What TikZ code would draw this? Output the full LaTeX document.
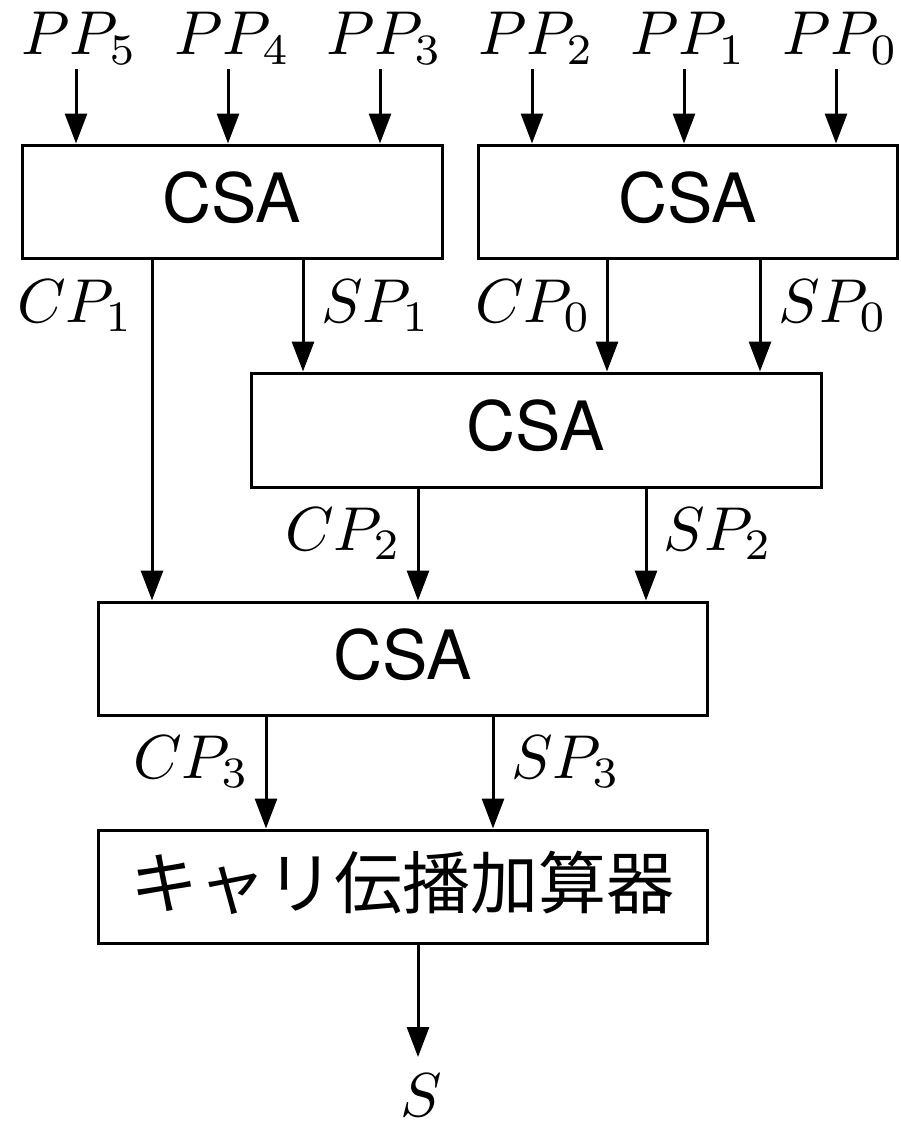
\documentclass[tikz,border=0pt]{standalone}
\DeclareFontFamily{OML}{cmm}{\skewchar\font'177}
\DeclareFontShape{OML}{cmm}{m}{it}{<->cmmi10}{}
\DeclareFontShape{OML}{cmm}{b}{it}{<->cmmib10}{}
\DeclareFontShape{OT1}{cmr}{m}{n}{<-50>cmr7<50->cmr10}{}
\DeclareFontFamily{OMS}{cmsy}{\skewchar\font'60}
\DeclareFontShape{OMS}{cmsy}{m}{n}{<->cmsy10}{}
\usepackage{fontspec}
\setsansfont{TeX Gyre Heros}
\newfontfamily\jpfont{Noto Sans CJK JP}
\usetikzlibrary{arrows.meta}
\begin{document}
\begin{tikzpicture}[x=1pt,y=-1pt,
  blk/.style={draw, line width=3pt, rectangle, inner sep=0pt,
    font=\sffamily\fontsize{68}{68}\selectfont, text height=49pt, text depth=8pt},
  jpblk/.style={blk, font=\jpfont\fontsize{68}{68}\selectfont, text height=60pt, text depth=16pt},
  sig/.style={line width=3pt, -{Triangle[length=30pt,width=22pt]}},
  lab/.style={font=\fontsize{62}{62}\selectfont, inner sep=0pt},
  labc/.style={lab, anchor=base},
  labl/.style={lab, anchor=base east},
  labr/.style={lab, anchor=base west}]
\useasboundingbox (0,0) rectangle (900,1124);
% blocks
\node[blk, minimum width=420pt, minimum height=113pt] (b1) at (232,201.5) {CSA};
\node[blk, minimum width=419pt, minimum height=113pt] (b2) at (687.5,201.5) {CSA};
\node[blk, minimum width=570pt, minimum height=114pt] (b3) at (536,430) {CSA};
\node[blk, minimum width=609pt, minimum height=113pt] (b4) at (402.5,658.5) {CSA};
\node[jpblk, minimum width=609pt, minimum height=113pt] (b5) at (402.5,886.5) {キャリ伝播加算器};
% input start points
\coordinate (p5) at (76,69);
\coordinate (p4) at (228,69);
\coordinate (p3) at (380,69);
\coordinate (p2) at (532,69);
\coordinate (p1) at (684,69);
\coordinate (p0) at (836,69);
\coordinate (sout) at (418,1057);
% input labels
\node[labc] (lp5) at (78,55) {$PP_5$};
\node[labc] (lp4) at (231,55) {$PP_4$};
\node[labc] (lp3) at (383,55) {$PP_3$};
\node[labc] (lp2) at (535,55) {$PP_2$};
\node[labc] (lp1) at (687,55) {$PP_1$};
\node[labc] (lp0) at (839,55) {$PP_0$};
% input arrows
\foreach \p in {p5,p4,p3}
  \draw[sig] (\p) -- (\p |- b1.north);
\foreach \p in {p2,p1,p0}
  \draw[sig] (\p) -- (\p |- b2.north);
% x positions of internal signals
\coordinate (xc1) at (152,0);
\coordinate (xs1) at (303,0);
\coordinate (xc0) at (607,0);
\coordinate (xs0) at (760,0);
\coordinate (xc2) at (418,0);
\coordinate (xs2) at (646,0);
\coordinate (xc3) at (266,0);
\coordinate (xs3) at (493,0);
% internal arrows
\draw[sig] (b1.south -| xc1) -- (b4.north -| xc1);
\draw[sig] (b1.south -| xs1) -- (b3.north -| xs1);
\draw[sig] (b2.south -| xc0) -- (b3.north -| xc0);
\draw[sig] (b2.south -| xs0) -- (b3.north -| xs0);
\draw[sig] (b3.south -| xc2) -- (b4.north -| xc2);
\draw[sig] (b3.south -| xs2) -- (b4.north -| xs2);
\draw[sig] (b4.south -| xc3) -- (b5.north -| xc3);
\draw[sig] (b4.south -| xs3) -- (b5.north -| xs3);
\draw[sig] (b5.south -| sout) -- (sout);
% labels
\node[labl] (lc1) at (131,322) {$CP_1$};
\node[labr] (ls1) at (321,322) {$SP_1$};
\node[labl] (lc0) at (589,322) {$CP_0$};
\node[labr] (ls0) at (778,322) {$SP_0$};
\node[labl] (lc2) at (399,550) {$CP_2$};
\node[labr] (ls2) at (663,550) {$SP_2$};
\node[labl] (lc3) at (247,778) {$CP_3$};
\node[labr] (ls3) at (511,778) {$SP_3$};
\node[labc] (ls) at (421,1116) {$S$};
\end{tikzpicture}
\end{document}
